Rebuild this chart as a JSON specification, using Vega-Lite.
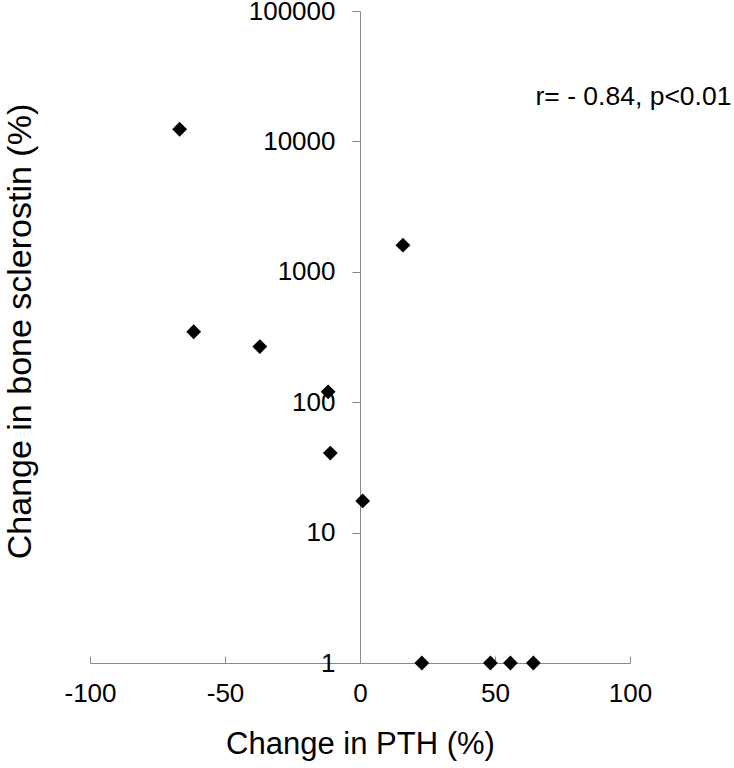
{
  "$schema": "https://vega.github.io/schema/vega-lite/v6.json",
  "width": 540,
  "height": 652,
  "autosize": {"type": "none"},
  "padding": {"left": 90, "top": 11, "right": 104, "bottom": 105},
  "background": "white",
  "config": {
    "view": {"stroke": null},
    "font": "Liberation Sans",
    "axis": {"grid": false, "domainColor": "#888888", "tickColor": "#888888", "labelColor": "#000000", "titleColor": "#000000", "labelFont": "Liberation Sans", "titleFont": "Liberation Sans", "titleFontWeight": "normal"}
  },
  "datasets": {
    "points": [
      {"pth": -66.8, "scl": 12400},
      {"pth": -61.6, "scl": 347},
      {"pth": -37.1, "scl": 267},
      {"pth": -11.8, "scl": 120},
      {"pth": -11.0, "scl": 40.7},
      {"pth": 1.0, "scl": 17.5},
      {"pth": 15.9, "scl": 1600},
      {"pth": 22.9, "scl": 1},
      {"pth": 48.3, "scl": 1},
      {"pth": 55.7, "scl": 1},
      {"pth": 64.2, "scl": 1}
    ],
    "note": [
      {"pth": 65.0, "scl": 21800, "label": "r= - 0.84, p<0.01"}
    ]
  },
  "layer": [
    {
      "data": {"name": "points"},
      "mark": {"type": "point", "shape": "diamond", "filled": true, "color": "#000000", "opacity": 1, "size": 220},
      "encoding": {
        "x": {
          "field": "pth", "type": "quantitative",
          "scale": {"domain": [-100, 100], "nice": false, "zero": false},
          "axis": {
            "title": "Change in PTH (%)", "titleFontSize": 31, "titlePadding": 23,
            "values": [-100, -50, 0, 50, 100], "labelExpr": "datum.value + ''", "labelFontSize": 26, "tickSize": -7,
            "labelPadding": 24, "labelFlush": false, "labelOverlap": false
          }
        },
        "y": {
          "field": "scl", "type": "quantitative",
          "scale": {"type": "log", "domain": [1, 100000], "nice": false},
          "axis": {
            "title": "Change in bone sclerostin (%)", "titleFontSize": 34,
            "offset": -270, "values": [1, 10, 100, 1000, 10000, 100000], "format": "d",
            "labelFontSize": 26, "tickSize": 8, "labelPadding": 17, "labelFlush": false, "labelOverlap": false,
            "titleX": -340, "titleY": 320, "titleAngle": -90, "titleAlign": "center", "titleBaseline": "middle"
          }
        }
      }
    },
    {
      "data": {"name": "note"},
      "mark": {"type": "text", "align": "left", "baseline": "middle", "fontSize": 26.5, "color": "#000000", "font": "Liberation Sans"},
      "encoding": {
        "x": {"field": "pth", "type": "quantitative"},
        "y": {"field": "scl", "type": "quantitative"},
        "text": {"field": "label"}
      }
    }
  ]
}
